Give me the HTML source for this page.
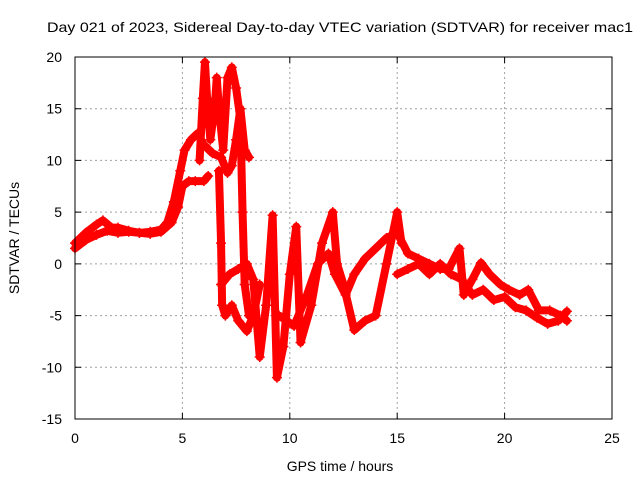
<!DOCTYPE html>
<html><head><meta charset="utf-8"><style>
body{margin:0;background:#fff}
svg{display:block;font-family:"Liberation Sans",sans-serif}
</style></head><body>
<svg id="chart" width="640" height="480" viewBox="0 0 640 480">
<text x="47" y="32" font-size="14" textLength="586" lengthAdjust="spacingAndGlyphs">Day 021 of 2023, Sidereal Day-to-day VTEC variation (SDTVAR) for receiver mac1</text>
<g id="grid"></g>
<g id="series"></g>
<rect x="75" y="57" width="537" height="362" fill="none" stroke="#000" stroke-width="1"/>
<g id="axes"></g>
<text x="340" y="471" font-size="14" text-anchor="middle">GPS time / hours</text>
<text transform="translate(19,238) rotate(-90)" font-size="14" text-anchor="middle">SDTVAR / TECUs</text>
</svg>
<script>
const xTicks=[0,5,10,15,20,25];
const yTicks=[20,15,10,5,0,-5,-10,-15];
const seriesLowerBand=[[0,1.5],[0.5,2.3],[1,2.8],[1.5,3.2],[2,3.0],[2.5,3.1],[3,3.0],[3.5,2.9],[4,3.1],[4.5,4],[4.8,5.5],[5,7.5],[5.3,8],[5.6,8],[6,8],[6.2,8.5]];
const seriesUpperBand=[[0,2],[0.5,3],[1,3.8],[1.3,4.2],[1.7,3.5],[2,3.5],[2.5,3.2],[3,3],[3.5,3.1],[4,3.3],[4.3,4],[4.6,6],[4.9,9],[5.1,11],[5.4,12],[5.7,12.6],[6,11.5],[6.4,10.7],[6.8,10.3],[7.1,8.8],[7.3,9.5],[7.5,12],[7.7,15],[7.9,11],[8.1,10.3]];
const seriesSpikes=[[5.8,10],[5.95,16],[6.05,19.5],[6.15,16],[6.3,12],[6.5,15],[6.6,18],[6.7,15],[6.9,11],[7.1,18],[7.3,19],[7.5,17],[7.7,14],[7.8,5],[7.9,-2],[8.1,-5]];
const seriesDrop=[[6.7,9],[6.8,2],[6.85,-4],[7,-5],[7.3,-4],[7.6,-5.5],[8,-6.5],[8.3,-5],[8.6,-2]];
const seriesWave=[[6.8,-2],[7.2,-1],[7.6,-0.5],[8,0],[8.3,-1.5],[8.6,-9],[8.9,-4],[9.2,4.7],[9.4,-11],[9.7,-8],[10,-1],[10.3,3.6],[10.5,-7.6],[11,-4],[11.5,2],[12,5],[12.2,0],[12.5,-2],[13,-6.4],[13.5,-5.5],[14,-5],[14.5,0],[15,5],[15.2,2]];
const seriesMid=[[9.5,-5],[10.2,-6],[10.8,-3],[11.3,0],[11.8,1],[12.1,-1],[12.6,-3],[13,-1],[13.5,0.5],[14,1.5],[14.5,2.5],[15,3],[15.5,1],[16,0.5],[16.5,0],[17,-0.5],[17.4,-0.5],[17.9,1.5],[18.1,-3],[18.5,-1.5],[18.9,0.1],[19.3,-1],[19.8,-2],[20.2,-2.5],[20.7,-3],[21.1,-2.5],[21.6,-4.5],[22.1,-4.5],[22.6,-5],[22.9,-5.5]];
const seriesLate=[[15,-1],[15.5,-0.5],[16,0],[16.5,-1],[17,0],[17.5,-1],[18,-1.5],[18.5,-3],[19,-2.5],[19.5,-3.5],[20,-3.2],[20.5,-4.2],[21,-4.5],[21.5,-5.2],[22,-5.8],[22.5,-5.5],[22.9,-4.6]];
const allSeries=[seriesLowerBand,seriesUpperBand,seriesSpikes,seriesDrop,seriesWave,seriesMid,seriesLate];
const X0=75,X1=612,Y0=419,Y1=57;
const xs=h=>X0+(h-0)/(25-0)*(X1-X0);
const ys=v=>Y0-(v+15)/(35)*(Y0-Y1);
const NS='http://www.w3.org/2000/svg';
const mk=(t,a,p)=>{const e=document.createElementNS(NS,t);for(const k in a)e.setAttribute(k,a[k]);p.appendChild(e);return e;};
const grid=document.getElementById('grid'),axes=document.getElementById('axes'),ser=document.getElementById('series');
xTicks.forEach(t=>{const x=xs(t);
 if(t>0&&t<25){const l=mk('line',{x1:x,x2:x,y1:Y1,y2:Y0,stroke:'#a0a0a0','stroke-dasharray':'2,3'},grid);}
 const tk=mk('path',{d:`M${x},${Y0}v-6M${x},${Y1}v6`,stroke:'#000'},axes);
 const lb=mk('text',{x:x,y:443,'font-size':14,'text-anchor':'middle'},axes);lb.textContent=t;});
yTicks.forEach(t=>{const y=ys(t);
 if(t>-15&&t<20){const l=mk('line',{x1:X0,x2:X1,y1:y,y2:y,stroke:'#a0a0a0','stroke-dasharray':'2,3'},grid);}
 const tk=mk('path',{d:`M${X0},${y}h6M${X1},${y}h-6`,stroke:'#000'},axes);
 const lb=mk('text',{x:62,y:y+5,'font-size':14,'text-anchor':'end'},axes);lb.textContent=t;});
allSeries.forEach((s,i)=>{
 const pl=mk('polyline',{points:s.map(p=>xs(p[0])+','+ys(p[1])).join(' '),fill:'none',stroke:'#f00','stroke-width':8,'stroke-linejoin':'round','stroke-linecap':'round'},ser);
 
 
 s.forEach(p=>{const x=xs(p[0]),y=ys(p[1]);
  const m=mk('path',{d:`M${x-5},${y}h10M${x},${y-5}v10`,stroke:'#f00','stroke-width':1.5},ser);
  
  });
});
</script>
</body></html>
